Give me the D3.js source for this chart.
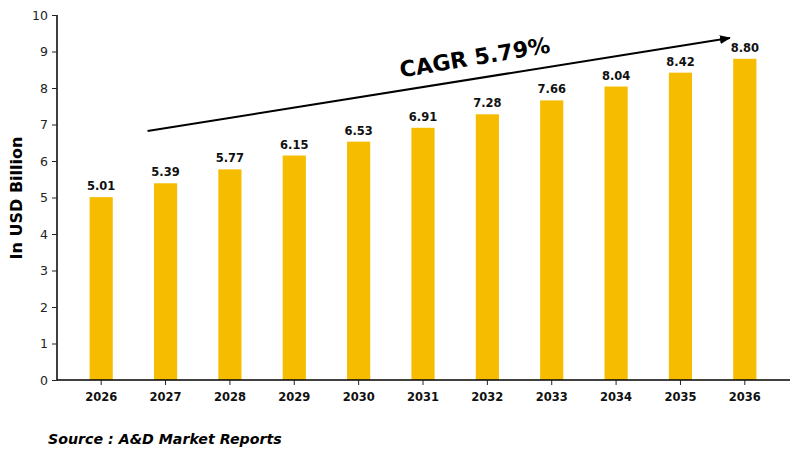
<!DOCTYPE html>
<html>
<head>
<meta charset="utf-8">
<script src="https://cdn.jsdelivr.net/npm/d3@7"></script>
<style>
  body { margin: 0; background: #fff; }
  svg { font-family: 'DejaVu Sans', sans-serif; }
</style>
</head>
<body>
<svg id="chart" width="800" height="472"></svg>
<script>
const years = ['2026', '2027', '2028', '2029', '2030', '2031', '2032', '2033', '2034', '2035', '2036'];
const values = [5.01, 5.39, 5.77, 6.15, 6.53, 6.91, 7.28, 7.66, 8.04, 8.42, 8.80];
const yTicks = [0, 1, 2, 3, 4, 5, 6, 7, 8, 9, 10];
const cagrLabel = 'CAGR 5.79%';
const sourceLabel = 'Source : A&D Market Reports';

const svg = d3.select('#chart');

const x = d3.scaleBand()
	.domain(years)
	.range([69, 777])
	.paddingInner(0.64)
	.paddingOuter(0.32);

const y = d3.scaleLinear().domain([0, 10]).range([380, 15]);

// y axis
const yAxis = svg.append('g')
	.attr('transform', 'translate(57,0)')
	.call(d3.axisLeft(y).tickValues(yTicks).tickSize(5).tickPadding(4));
yAxis.select('.domain').attr('stroke', '#000').attr('stroke-width', 1.5).attr('d', 'M0,15V380');
yAxis.selectAll('.tick line').attr('stroke', '#222');
yAxis.selectAll('.tick text')
	.attr('font-size', 12.5)
	.attr('fill', '#222')
	.attr('font-family', 'DejaVu Sans');

// bars
svg.selectAll('rect.bar')
	.data(values)
	.enter()
	.append('rect')
	.attr('class', 'bar')
	.attr('x', (d, i) => x(years[i]))
	.attr('y', (d) => y(d))
	.attr('width', x.bandwidth())
	.attr('height', (d) => y(0) - y(d))
	.attr('fill', '#F5BC00');

// value labels
svg.selectAll('text.val')
	.data(values)
	.enter()
	.append('text')
	.attr('class', 'val')
	.attr('x', (d, i) => x(years[i]) + x.bandwidth() / 2)
	.attr('y', (d) => y(d) - 7)
	.attr('text-anchor', 'middle')
	.attr('font-size', 11.5)
	.attr('font-weight', 'bold')
	.attr('fill', '#111')
	.text((d) => d.toFixed(2));

// x axis
const xAxis = svg.append('g')
	.attr('transform', 'translate(0,380)')
	.call(d3.axisBottom(x).tickSize(5).tickPadding(8));
xAxis.select('.domain').attr('stroke', '#000').attr('stroke-width', 1.5).attr('d', 'M57,0H790');
xAxis.selectAll('.tick line').attr('stroke', '#222');
xAxis.selectAll('.tick text')
	.attr('font-size', 11.5)
	.attr('font-weight', 'bold')
	.attr('fill', '#111')
	.attr('font-family', 'DejaVu Sans');

// y label
svg.append('text')
	.attr('transform', 'translate(22,198) rotate(-90)')
	.attr('text-anchor', 'middle')
	.attr('font-size', 16)
	.attr('font-weight', 'bold')
	.attr('fill', '#000')
	.text('In USD Billion');

// CAGR arrow
svg.append('defs').append('marker')
	.attr('id', 'arrow')
	.attr('viewBox', '0 0 10 10')
	.attr('refX', 9)
	.attr('refY', 5)
	.attr('markerWidth', 5.5)
	.attr('markerHeight', 5.5)
	.attr('orient', 'auto')
	.append('path')
	.attr('d', 'M0,1L10,5L0,9z')
	.attr('fill', '#000');

svg.append('line')
	.attr('x1', x('2027') + x.bandwidth() / 2 - 18)
	.attr('y1', y(6.82))
	.attr('x2', x('2036') + x.bandwidth() / 2 - 15)
	.attr('y2', y(9.37))
	.attr('stroke', '#000')
	.attr('stroke-width', 2)
	.attr('marker-end', 'url(#arrow)');

svg.append('text')
	.attr('transform', 'translate(476,65) rotate(-9.5)')
	.attr('text-anchor', 'middle')
	.attr('font-size', 22)
	.attr('font-weight', 'bold')
	.attr('fill', '#000')
	.text(cagrLabel);

// source
svg.append('text')
	.attr('x', 48)
	.attr('y', 444)
	.attr('font-size', 14.2)
	.attr('font-weight', 'bold')
	.attr('font-style', 'italic')
	.attr('fill', '#000')
	.text(sourceLabel);
</script>
</body>
</html>
